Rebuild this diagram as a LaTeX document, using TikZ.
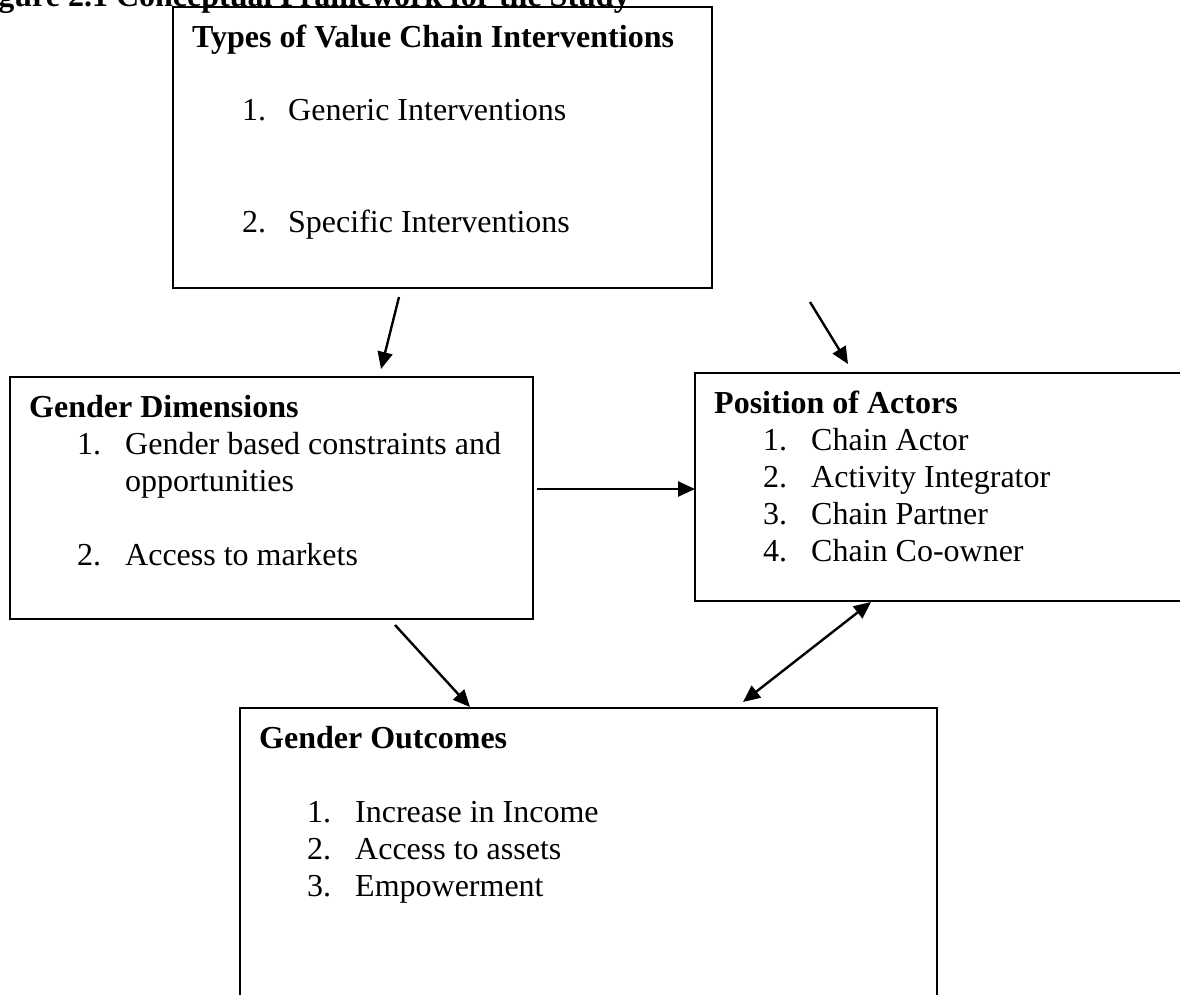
\documentclass[tikz,border=0pt]{standalone}
\usepackage{fontspec}
\setmainfont{Liberation Serif}
\usetikzlibrary{arrows.meta}
\begin{document}
\begin{tikzpicture}[x=1pt,y=-1pt,
  box/.style={draw, line width=2.2pt, anchor=north west, inner sep=0pt, outer sep=0pt},
  lbl/.style={anchor=base west, inner sep=0pt, font=\fontsize{32}{37}\selectfont},
  hd/.style={anchor=base west, inner sep=0pt, font=\fontsize{32}{37}\selectfont\bfseries},
  arr/.style={line width=2.4pt, -{Triangle[length=17pt,width=15pt]}},
  darr/.style={line width=2.4pt, {Triangle[length=17pt,width=15pt]}-{Triangle[length=17pt,width=15pt]}},
]
\useasboundingbox (0,0) rectangle (1180,994);

% figure caption (cut off at the top)
\node[anchor=base east, inner sep=0pt, font=\fontsize{32}{37}\selectfont\bfseries] (cap) at (630,6) {Figure 2.1 Conceptual Framework for the Study};

% boxes
\node[box, minimum width=539pt, minimum height=281pt] (types) at (173,7) {};
\node[box, minimum width=523pt, minimum height=242pt] (gdim) at (10,377) {};
\node[box, minimum width=620pt, minimum height=228pt] (pos) at (695,373) {};
\node[box, minimum width=697pt, minimum height=320pt] (gout) at (240,708) {};

% Types of Value Chain Interventions
\node[hd] (typesT) at (192,47) {Types of Value Chain Interventions};
\node[lbl] (typesN1) at (242,120) {1.};
\node[lbl] (typesI1) at (288,120) {Generic Interventions};
\node[lbl] (typesN2) at (242,232) {2.};
\node[lbl] (typesI2) at (288,232) {Specific Interventions};

% Gender Dimensions
\node[hd] (gdimT) at (29,417) {Gender Dimensions};
\node[lbl] (gdimN1) at (77,454) {1.};
\node[lbl] (gdimI1) at (125,454) {Gender based constraints and};
\node[lbl] (gdimI1b) at (125,491) {opportunities};
\node[lbl] (gdimN2) at (77,565) {2.};
\node[lbl] (gdimI2) at (125,565) {Access to markets};

% Position of Actors
\node[hd] (posT) at (714,413) {Position of Actors};
\node[lbl] (posN1) at (763,450) {1.};
\node[lbl] (posI1) at (811,450) {Chain Actor};
\node[lbl] (posN2) at (763,487) {2.};
\node[lbl] (posI2) at (811,487) {Activity Integrator};
\node[lbl] (posN3) at (763,524) {3.};
\node[lbl] (posI3) at (811,524) {Chain Partner};
\node[lbl] (posN4) at (763,561) {4.};
\node[lbl] (posI4) at (811,561) {Chain Co-owner};

% Gender Outcomes
\node[hd] (goutT) at (259,748) {Gender Outcomes};
\node[lbl] (goutN1) at (307,822) {1.};
\node[lbl] (goutI1) at (355,822) {Increase in Income};
\node[lbl] (goutN2) at (307,859) {2.};
\node[lbl] (goutI2) at (355,859) {Access to assets};
\node[lbl] (goutN3) at (307,896) {3.};
\node[lbl] (goutI3) at (355,896) {Empowerment};

% connector end points
\coordinate (a1s) at (399,297);
\coordinate (a1e) at (381,369);
\coordinate (a2s) at (810,302);
\coordinate (a2e) at (848,364);
\coordinate (a3s) at (537,489);
\coordinate (a3e) at (695,489);
\coordinate (a4s) at (395,625);
\coordinate (a4e) at (470,707);
\coordinate (a5s) at (743,702);
\coordinate (a5e) at (871,602);

\draw[arr] (a1s) -- (a1e);
\draw[arr] (a2s) -- (a2e);
\draw[arr] (a3s) -- (a3e);
\draw[arr] (a4s) -- (a4e);
\draw[darr] (a5s) -- (a5e);
\end{tikzpicture}
\end{document}
